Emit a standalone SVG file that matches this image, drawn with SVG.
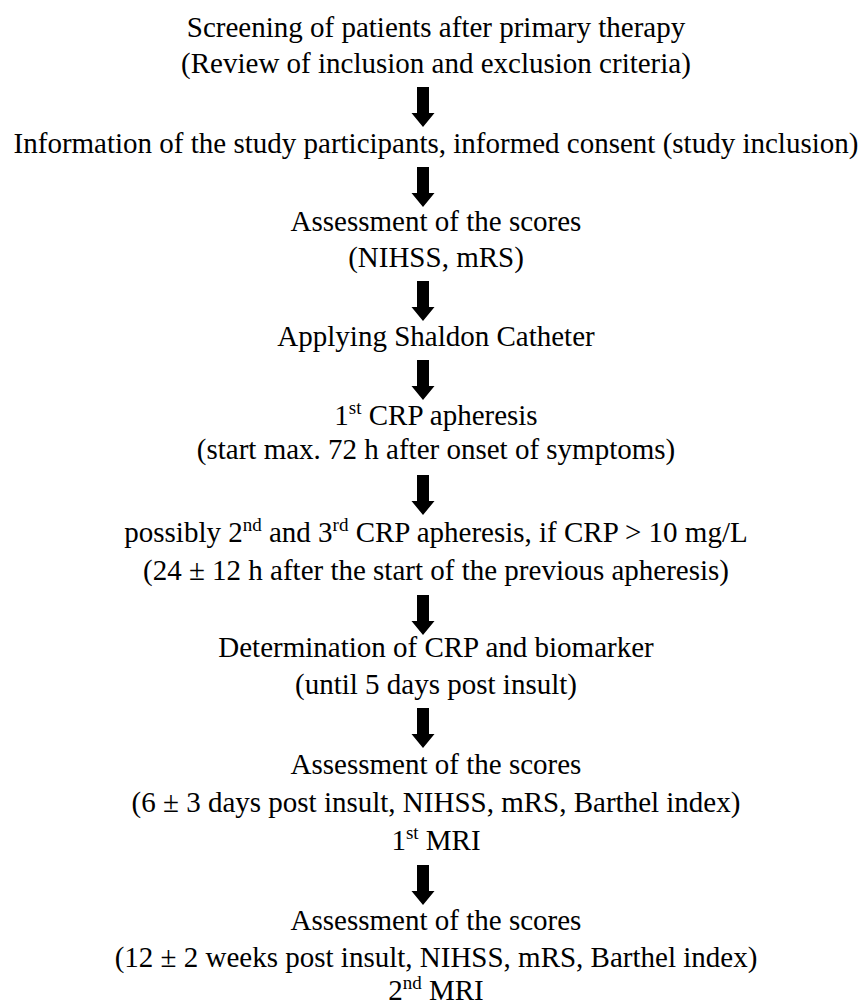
<svg xmlns="http://www.w3.org/2000/svg" width="865" height="1007" viewBox="0 0 865 1007">
  <style>
    text { font-family: "Liberation Serif", "Times New Roman", serif; font-size: 29px; fill: #000; text-anchor: middle; }
    .sup { font-size: 19px; }
    .arrow { fill: #000; stroke: none; }
  </style>
  <defs>
    <path id="arrow" d="M-6,0 H6 V26 H11.5 L0,40 L-11.5,26 H-6 Z"/>
  </defs>
  <rect width="865" height="1007" fill="#fff"/>

  <g id="connectors" class="arrow">
    <use href="#arrow" transform="translate(423,87)"/>
    <use href="#arrow" transform="translate(423,167)"/>
    <use href="#arrow" transform="translate(423,281)"/>
    <use href="#arrow" transform="translate(423,360)"/>
    <use href="#arrow" transform="translate(423,475)"/>
    <use href="#arrow" transform="translate(423,595)"/>
    <use href="#arrow" transform="translate(423,708)"/>
    <use href="#arrow" transform="translate(423,865)"/>
  </g>

  <g id="node-screening">
    <text x="436" y="37">Screening of patients after primary therapy</text>
    <text x="436" y="73">(Review of inclusion and exclusion criteria)</text>
  </g>

  <g id="node-information">
    <text x="436" y="153">Information of the study participants, informed consent (study inclusion)</text>
  </g>

  <g id="node-assessment-1">
    <text x="436" y="231">Assessment of the scores</text>
    <text x="436" y="267">(NIHSS, mRS)</text>
  </g>

  <g id="node-shaldon">
    <text x="436" y="346">Applying Shaldon Catheter</text>
  </g>

  <g id="node-apheresis-1">
    <text x="436" y="425">1<tspan class="sup" dy="-11">st</tspan><tspan dy="11"> CRP apheresis</tspan></text>
    <text x="436" y="459">(start max. 72 h after onset of symptoms)</text>
  </g>

  <g id="node-apheresis-2-3">
    <text x="436" y="542">possibly 2<tspan class="sup" dy="-11">nd</tspan><tspan dy="11"> and 3</tspan><tspan class="sup" dy="-11">rd</tspan><tspan dy="11"> CRP apheresis, if CRP &gt; 10 mg/L</tspan></text>
    <text x="436" y="580">(24 ± 12 h after the start of the previous apheresis)</text>
  </g>

  <g id="node-determination">
    <text x="436" y="657">Determination of CRP and biomarker</text>
    <text x="436" y="694">(until 5 days post insult)</text>
  </g>

  <g id="node-assessment-2">
    <text x="436" y="774">Assessment of the scores</text>
    <text x="436" y="812">(6 ± 3 days post insult, NIHSS, mRS, Barthel index)</text>
    <text x="436" y="850">1<tspan class="sup" dy="-11">st</tspan><tspan dy="11"> MRI</tspan></text>
  </g>

  <g id="node-assessment-3">
    <text x="436" y="930">Assessment of the scores</text>
    <text x="436" y="967">(12 ± 2 weeks post insult, NIHSS, mRS, Barthel index)</text>
    <text x="436" y="1000">2<tspan class="sup" dy="-11">nd</tspan><tspan dy="11"> MRI</tspan></text>
  </g>
</svg>
